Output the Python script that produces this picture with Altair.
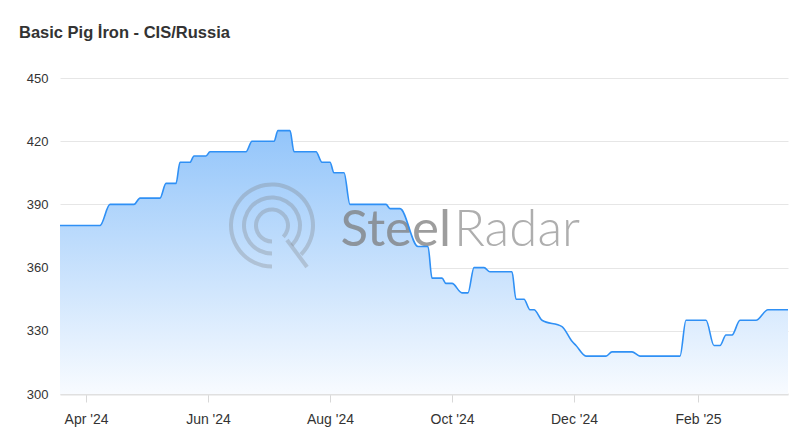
import altair as alt
import pandas as pd
import math

# ---- data ----
dates = [
    "2024-03-19", "2024-04-08", "2024-04-13", "2024-04-25", "2024-04-28",
    "2024-05-08", "2024-05-11", "2024-05-16", "2024-05-18", "2024-05-23",
    "2024-05-25", "2024-05-31", "2024-06-02", "2024-06-20", "2024-06-23",
    "2024-07-04", "2024-07-06", "2024-07-12", "2024-07-14", "2024-07-25",
    "2024-07-28", "2024-08-01", "2024-08-03", "2024-08-08", "2024-08-11",
    "2024-08-29", "2024-08-31", "2024-09-05", "2024-09-14", "2024-09-19",
    "2024-09-21", "2024-09-26", "2024-09-28", "2024-10-01", "2024-10-06",
    "2024-10-09", "2024-10-12", "2024-10-17", "2024-10-20", "2024-10-31",
    "2024-11-02", "2024-11-06", "2024-11-09", "2024-11-11", "2024-11-15",
    "2024-11-25", "2024-11-30", "2024-12-02", "2024-12-07", "2024-12-17",
    "2024-12-20", "2024-12-30", "2025-01-03", "2025-01-23", "2025-01-26",
    "2025-02-05", "2025-02-09", "2025-02-12", "2025-02-15", "2025-02-18",
    "2025-02-22", "2025-03-02", "2025-03-08", "2025-03-18",
]
prices = [
    380, 380, 390, 390, 393,
    393, 400, 400, 410, 410,
    413, 413, 415, 415, 420,
    420, 425, 425, 415, 415,
    410, 410, 405, 405, 390,
    390, 388, 388, 370, 370,
    355, 355, 352.5, 352.5, 348,
    348, 360, 360, 358, 358,
    345, 345, 340, 340, 335,
    332, 325, 323, 318, 318,
    320, 320, 318, 318, 335,
    335, 323, 323, 328, 328,
    335, 335, 340, 340,
]

chart_title = "Basic Pig İron - CIS/Russia"
x_tick_dates = ["2024-04-01", "2024-06-01", "2024-08-01", "2024-10-01", "2024-12-01", "2025-02-01"]
x_domain = ["2024-03-19", "2025-03-18"]
y_ticks = [300, 330, 360, 390, 420, 450]
y_domain = [300, 450]
watermark_words = ["Steel", "Radar"]


def ms(d):
    return int(pd.Timestamp(d, tz="UTC").value // 10**6)


df = pd.DataFrame({"date": dates, "price": prices})

W, H = 728, 316
FONT = "Liberation Sans"

x_enc = alt.X(
    "date:T",
    scale=alt.Scale(type="utc", domain=[ms(d) for d in x_domain], nice=False),
    axis=alt.Axis(
        values=[ms(d) for d in x_tick_dates],
        labelExpr='utcFormat(datum.value, "%b \'%y")',
        title=None,
        grid=False,
        domainColor="#e0e0e0",
        domainWidth=2,
        tickColor="#d8d8d8",
        tickSize=8,
        labelPadding=10,
        labelFontSize=14,
        labelColor="#333333",
        labelFont=FONT,
    ),
)
y_enc = alt.Y(
    "price:Q",
    scale=alt.Scale(domain=y_domain, nice=False, zero=False),
    axis=alt.Axis(
        values=y_ticks,
        title=None,
        domain=False,
        ticks=False,
        tickSize=0,
        labelPadding=12,
        labelFontSize=13,
        labelColor="#333333",
        labelFont=FONT,
        gridColor="#e6e6e6",
        gridWidth=1,
    ),
)

base = alt.Chart(df)

area = base.mark_area(
    interpolate="monotone",
    clip=True,
    color=alt.Gradient(
        gradient="linear",
        stops=[
            alt.GradientStop(color="#f8fbff", offset=0),
            alt.GradientStop(color="#93c5fa", offset=1),
        ],
        x1=1, x2=1, y1=1, y2=0,
    ),
).encode(x=x_enc, y=y_enc, y2=alt.datum(300))

line = base.mark_line(
    interpolate="monotone", clip=True, color="#2f90f5", strokeWidth=1.6
).encode(x="date:T", y="price:Q")

# ---- watermark logo (decoration) ----
logo_cx, logo_cy = 212, 147.5
rings = []
for r1, r2 in [(39, 43), (26, 30), (14, 18)]:
    rings.append(
        alt.Chart(pd.DataFrame({"k": [0]})).mark_arc(
            theta=math.pi, theta2=math.pi * 0.75 + 2 * math.pi,
            radius=r1, radius2=r2, color="#7a7a7a", opacity=0.3,
        ).encode(x=alt.value(logo_cx), y=alt.value(logo_cy))
    )
tail = alt.Chart(pd.DataFrame({"k": [0]})).mark_rule(
    color="#7a7a7a", opacity=0.3, strokeWidth=4
).encode(x=alt.value(227), y=alt.value(162), x2=alt.value(247), y2=alt.value(189))

wm_steel = alt.Chart(pd.DataFrame({"t": [watermark_words[0]]})).mark_text(
    align="right", baseline="alphabetic", fontSize=51, font="Lato",
    fontWeight=400, color="#7d7d7d", opacity=0.75,
).encode(x=alt.value(391), y=alt.value(168), text="t:N")
wm_radar = alt.Chart(pd.DataFrame({"t": [watermark_words[1]]})).mark_text(
    align="left", baseline="alphabetic", fontSize=51, font="Lato",
    fontWeight=300, color="#9a9a9a", opacity=0.8,
).encode(x=alt.value(394), y=alt.value(168), text="t:N")

chart = alt.layer(area, *rings, tail, wm_steel, wm_radar, line).properties(
    width=W,
    height=H,
    autosize=alt.AutoSizeParams(type="none"),
    padding={"left": 52, "top": 70, "right": 4, "bottom": 40},
    title=alt.TitleParams(
        chart_title,
        anchor="start",
        frame="group",
        dx=-41,
        offset=18,
        baseline="alphabetic",
        fontSize=16.5,
        fontWeight="bold",
        color="#333333",
        font=FONT,
    ),
).configure_view(stroke=None)

chart.save("out.html", embed_options={"renderer": "svg", "actions": False})
